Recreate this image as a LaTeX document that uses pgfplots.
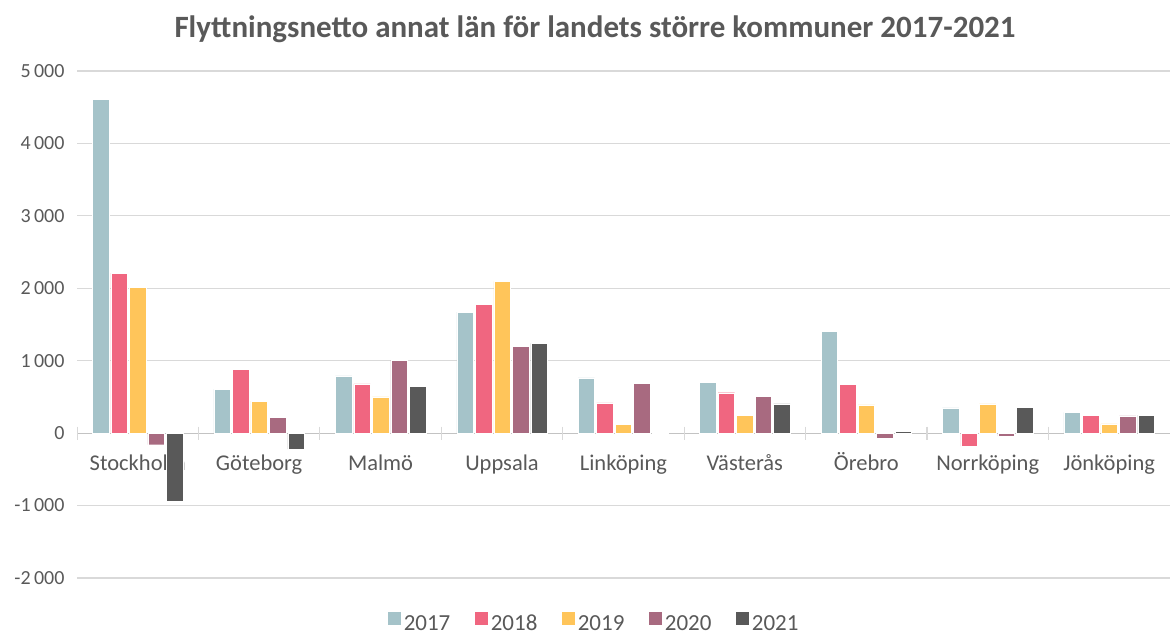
\documentclass[border=0pt]{standalone}
\usepackage{pgfplots}
\pgfplotsset{compat=1.18}
\usepackage{fontspec}
\setmainfont{Carlito}
\definecolor{c17}{HTML}{A5C3C9}
\definecolor{c18}{HTML}{F06680}
\definecolor{c19}{HTML}{FFC55A}
\definecolor{c20}{HTML}{A86A80}
\definecolor{c21}{HTML}{595959}
\definecolor{txt}{HTML}{595959}
\definecolor{grd}{HTML}{D9D9D9}
\begin{document}
\begin{tikzpicture}
\begin{axis}[
  set layers,
  at={(77pt,57pt)}, anchor=south west,
  scale only axis, width=1093pt, height=507pt,
  ybar=2pt, bar width=16.5pt,
  xmin=-0.5, xmax=8.5, ymin=-2000, ymax=5000,
  axis line style={draw=none},
  ytick={-2000,-1000,0,1000,2000,3000,4000,5000},
  yticklabels={-2\,000,-1\,000,0,1\,000,2\,000,3\,000,4\,000,5\,000},
  xtick={0,...,8},
  xticklabels={Stockholm,Göteborg,Malmö,Uppsala,Linköping,Västerås,Örebro,Norrköping,Jönköping},
  /pgf/number format/assume math mode=true,
  major tick length=0pt,
  ymajorgrids, grid style={grd, line width=1.2pt},
  y tick label style={font=\fontsize{20}{20}\selectfont, text=txt, xshift=-9pt},
  x tick label style={font=\fontsize{22.5}{22.5}\selectfont, text=txt, anchor=north, text height=17pt, text depth=5pt, yshift=128pt},
  legend style={draw=none, fill=none, at={(0.473,-0.0888)}, anchor=center,
    legend columns=5, font=\fontsize{23}{23}\selectfont, text=txt,
    nodes={text height=16pt, text depth=3pt, inner ysep=1pt},
    /tikz/every even column/.append style={column sep=22pt}},
  legend image code/.code={\fill[#1] (0pt,-1pt) rectangle (14pt,13pt);},
]
\draw[grd!90!black, line width=1.2pt] (axis cs:-0.5,0) -- (axis cs:8.5,0);
\draw[grd, line width=1.2pt] (axis cs:-0.5,90) -- (axis cs:-0.5,-100);
\draw[grd, line width=1.2pt] (axis cs:0.5,90) -- (axis cs:0.5,-100);
\draw[grd, line width=1.2pt] (axis cs:1.5,90) -- (axis cs:1.5,-100);
\draw[grd, line width=1.2pt] (axis cs:2.5,90) -- (axis cs:2.5,-100);
\draw[grd, line width=1.2pt] (axis cs:3.5,90) -- (axis cs:3.5,-100);
\draw[grd, line width=1.2pt] (axis cs:4.5,90) -- (axis cs:4.5,-100);
\draw[grd, line width=1.2pt] (axis cs:5.5,90) -- (axis cs:5.5,-100);
\draw[grd, line width=1.2pt] (axis cs:6.5,90) -- (axis cs:6.5,-100);
\draw[grd, line width=1.2pt] (axis cs:7.5,90) -- (axis cs:7.5,-100);
\addplot[fill=c17, draw=white, line width=0.4pt] coordinates {(0,4610) (1,608) (2,791) (3,1671) (4,764) (5,700) (6,1409) (7,350) (8,286)};
\addplot[fill=c18, draw=white, line width=0.4pt] coordinates {(0,2210) (1,884) (2,681) (3,1778) (4,419) (5,558) (6,672) (7,-184) (8,249)};
\addplot[fill=c19, draw=white, line width=0.4pt] coordinates {(0,2017) (1,442) (2,501) (3,2095) (4,120) (5,245) (6,392) (7,405) (8,129)};
\addplot[fill=c20, draw=white, line width=0.4pt] coordinates {(0,-160) (1,221) (2,1008) (3,1201) (4,690) (5,511) (6,-69) (7,-40) (8,240)};
\addplot[fill=c21, draw=white, line width=0.4pt] coordinates {(0,-940) (1,-221) (2,649) (3,1238) (4,10) (5,405) (6,28) (7,353) (8,249)};
\legend{2017,2018,2019,2020,2021}
\end{axis}
\node[text=txt, font=\fontsize{31}{31}\selectfont\bfseries] at (595pt,606pt) {Flyttningsnetto annat län för landets större kommuner 2017-2021};
\pgfresetboundingbox
\path[use as bounding box] (0pt,0pt) rectangle (1170pt,635pt);
\end{tikzpicture}
\end{document}
